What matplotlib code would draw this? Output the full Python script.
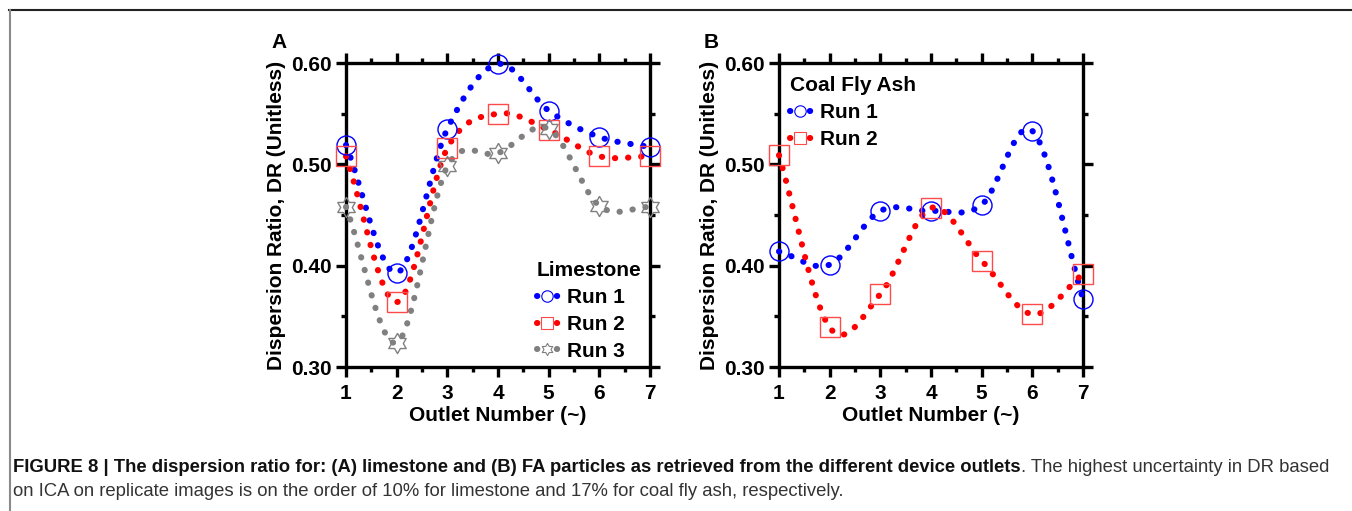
import numpy as np
import matplotlib
matplotlib.use("Agg")
import matplotlib.pyplot as plt
from matplotlib.lines import Line2D

plt.rcParams['font.family'] = ['Liberation Sans', 'DejaVu Sans']

# ---- data ----
outlets = [1, 2, 3, 4, 5, 6, 7]

lime_run1 = [0.519, 0.393, 0.535, 0.599, 0.553, 0.527, 0.517]
lime_run2 = [0.508, 0.364, 0.516, 0.550, 0.534, 0.508, 0.508]
lime_run3 = [0.458, 0.324, 0.498, 0.511, 0.535, 0.459, 0.458]

fa_run1 = [0.414, 0.401, 0.454, 0.454, 0.460, 0.533, 0.367]
fa_run2 = [0.509, 0.339, 0.372, 0.457, 0.405, 0.352, 0.392]

yticks = [0.30, 0.40, 0.50, 0.60]
ytick_labels = ["0.30", "0.40", "0.50", "0.60"]

W, H = 1352, 511


def smooth(x, y, n=40):
    # catmull-rom curve through the points (only for drawing the line)
    x = np.asarray(x, float)
    y = np.asarray(y, float)
    py = np.concatenate([[2 * y[0] - y[1]], y, [2 * y[-1] - y[-2]]])
    t = np.linspace(0, 1, n, endpoint=False)
    xs, ys = [], []
    for i in range(len(x) - 1):
        p0, p1, p2, p3 = py[i], py[i + 1], py[i + 2], py[i + 3]
        yy = 0.5 * ((2 * p1) + (-p0 + p2) * t + (2 * p0 - 5 * p1 + 4 * p2 - p3) * t ** 2
                    + (-p0 + 3 * p1 - 3 * p2 + p3) * t ** 3)
        xs.append(x[i] + t * (x[i + 1] - x[i]))
        ys.append(yy)
    xs.append([x[-1]])
    ys.append([y[-1]])
    return np.concatenate(xs), np.concatenate(ys)


# hexagram outline marker
ang_out = np.deg2rad(90 + np.arange(6) * 60)
ang_in = ang_out + np.deg2rad(30)
r_in = 1 / np.sqrt(3)
star = []
for a, b in zip(ang_out, ang_in):
    star.append((np.cos(a), np.sin(a)))
    star.append((r_in * np.cos(b), r_in * np.sin(b)))
star.append(star[0])

LW = 4.4
dots = (0, (0.05, 2.1))
dots_leg = (0, (0.05, 3.2))
FS = 15


def series(ax, y, color, marker, mcolor, ms):
    xs, ys = smooth(outlets, y)
    ax.plot(xs, ys, color=color, lw=LW, linestyle=dots, dash_capstyle='round',
            clip_on=False, zorder=3)
    ax.plot(outlets, y, linestyle='none', marker=marker, ms=ms, mfc='none',
            mec=mcolor, mew=1.0, clip_on=False, zorder=4)
    return Line2D([], [], color=color, lw=LW, linestyle=dots_leg, dash_capstyle='round',
                  marker=marker, ms=ms * 0.6, mfc='white', mec=mcolor, mew=0.8)


def style_axes(ax):
    ax.set_xlim(1, 7)
    ax.set_ylim(0.30, 0.60)
    ax.set_xticks(outlets)
    ax.set_xticks(np.arange(1.5, 7, 1), minor=True)
    ax.set_yticks(yticks)
    ax.set_yticklabels(ytick_labels)
    ax.set_yticks([0.35, 0.45, 0.55], minor=True)
    for s in ax.spines.values():
        s.set_linewidth(2.4)
    ax.tick_params(which='both', direction='out', top=True, right=True, width=2.4)
    ax.tick_params(which='major', length=7.2)
    ax.tick_params(which='minor', length=3.6)
    ax.tick_params(axis='y', labelsize=FS, pad=3)
    ax.tick_params(axis='x', labelsize=FS, pad=5)
    for lab in ax.get_xticklabels() + ax.get_yticklabels():
        lab.set_fontweight('bold')
    ax.set_xlabel("Outlet Number (~)", fontsize=FS, fontweight='bold', labelpad=2)
    ax.set_ylabel("Dispersion Ratio, DR (Unitless)", fontsize=FS, fontweight='bold', labelpad=4)


fig = plt.figure(figsize=(W / 100, H / 100), dpi=100)

axA = fig.add_axes([346 / W, 1 - 367 / H, 304 / W, 304 / H])
axB = fig.add_axes([779 / W, 1 - 367 / H, 304 / W, 304 / H])

blue, red, gray = '#0000ff', '#ff0000', '#808080'

hA = [series(axA, lime_run1, blue, 'o', blue, 13.7),
      series(axA, lime_run2, red, 's', '#ff4a4a', 14.4),
      series(axA, lime_run3, gray, star, gray, 14.5)]
style_axes(axA)

hB = [series(axB, fa_run1, blue, 'o', blue, 13.7),
      series(axB, fa_run2, red, 's', '#ff4a4a', 14.4)]
style_axes(axB)

leg_kw = dict(frameon=False, loc='upper left', bbox_transform=fig.transFigure,
              borderpad=0, borderaxespad=0, handlelength=1.0, handletextpad=0.45,
              labelspacing=0.38, alignment='left',
              prop={'size': FS, 'weight': 'bold'},
              title_fontproperties={'size': FS, 'weight': 'bold'})

axA.legend(hA, ["Run 1", "Run 2", "Run 3"], title="Limestone",
           bbox_to_anchor=(537 / W, 1 - 261 / H), **leg_kw)
axB.legend(hB, ["Run 1", "Run 2"], title="Coal Fly Ash",
           bbox_to_anchor=(790 / W, 1 - 76 / H), **leg_kw)

fig.text(271 / W, 1 - 42 / H, "A", fontsize=FS, fontweight='bold', va='center')
fig.text(704 / W, 1 - 42 / H, "B", fontsize=FS, fontweight='bold', va='center')

# frame lines
fig.add_artist(Line2D([9 / W, 1], [1 - 10 / H, 1 - 10 / H], color='#222222', lw=1.5))
fig.add_artist(Line2D([9.5 / W, 9.5 / W], [0, 1 - 10 / H], color='#8a8a8a', lw=1.5))

# caption
cap_bold = ("FIGURE 8 | The dispersion ratio for: (A) limestone and (B) FA particles "
            "as retrieved from the different device outlets")
cap_rest = ". The highest uncertainty in DR based"
cap_line2 = ("on ICA on replicate images is on the order of 10% for limestone and 17% "
             "for coal fly ash, respectively.")
CFS = 13.3
t1 = fig.text(13 / W, 1 - 468 / H, cap_bold, fontsize=CFS, fontweight='bold',
              color='#111111', va='center')
fig.canvas.draw()
bb = t1.get_window_extent()
fig.text(bb.x1 / W, 1 - 468 / H, cap_rest, fontsize=CFS, color='#333333', va='center')
fig.text(13 / W, 1 - 491 / H, cap_line2, fontsize=CFS, color='#333333', va='center')

fig.savefig("out.png", dpi=100)
